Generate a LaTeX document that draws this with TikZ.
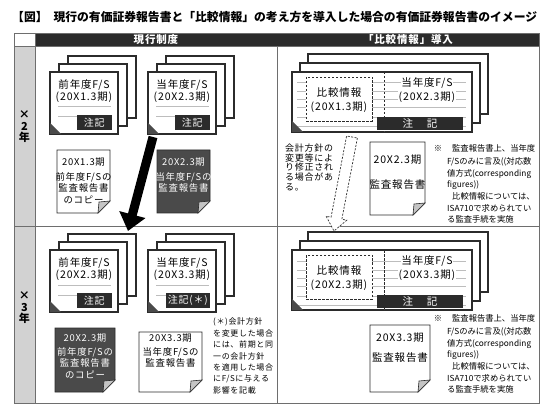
\documentclass[tikz,border=0pt]{standalone}
\usepackage{fontspec}
\setmainfont{Noto Sans CJK JP}[LetterSpace=8]
\newfontfamily\plainfont{Noto Sans CJK JP}
\usepackage{tikz}
\usetikzlibrary{arrows.meta, calc}
\definecolor{inkDark}{HTML}{2B2B2B}
\definecolor{sheetDark}{HTML}{4A4A4A}
\definecolor{ruleGray}{HTML}{BDBDBD}
\definecolor{sideGray}{HTML}{D2D2D2}
\definecolor{frameGray}{HTML}{6E6E6E}
\definecolor{foldGray}{HTML}{C4C4C4}

\begin{document}
\begin{tikzpicture}[x=1pt, y=-1pt,
  frame/.style={draw=frameGray, line width=0.9pt},
  sheet/.style={draw=inkDark, line width=1.3pt, fill=white},
  rule/.style={draw=ruleGray, line width=1pt},
  ear/.style={fill=sheetDark},
  stacktext/.style={font=\fontsize{10.5}{12}\selectfont, inner sep=0.6pt, fill=white},
  notebox/.style={fill=inkDark, text=white, font=\fontsize{10}{11}\selectfont, inner sep=2pt, minimum height=15pt, minimum width=35pt, anchor=east},
  widenote/.style={fill=inkDark, text=white, font=\fontsize{10.5}{11}\selectfont, inner sep=0pt, minimum height=13pt, minimum width=86pt},
  cmpframe/.style={draw=inkDark, dash pattern=on 2.5pt off 1.5pt, line width=0.8pt, fill=white},
  whitesheet/.style={draw=inkDark, line width=0.9pt, fill=white},
  darksheet/.style={draw=inkDark, line width=0.9pt, fill=sheetDark},
  reptext/.style={font=\fontsize{9.4}{11.5}\selectfont, align=center, inner sep=0pt, anchor=north},
  memo/.style={font=\plainfont\fontsize{8.3}{11.7}\selectfont, align=left, inner sep=0pt, anchor=north west},
  headtext/.style={font=\bfseries\fontsize{10.5}{12}\selectfont, text=white, inner sep=0pt},
  rowtext/.style={font=\bfseries\fontsize{11}{11.5}\selectfont, align=center, inner sep=0pt},
  copyarrow/.style={line width=9pt, -{Triangle[length=17pt, width=26pt]}},
  dasharrow/.style={draw=inkDark, dash pattern=on 2pt off 1.5pt, line width=0.7pt, fill=white},
  pics/fsstack/.style n args={3}{code={
    \foreach \k in {2,1}
      \draw[sheet] (9*\k,-8*\k) rectangle ++(68,62);
    \draw[sheet] (0,0) rectangle (68,62);
    \fill[ear] (0,51) -- (11,62) -- (0,62) -- cycle;
    \draw[rule] (8,35) -- (61,35);
    \draw[rule] (8,45) -- (27,45);
    \node[stacktext] (-name) at (34,13) {#1};
    \node[stacktext] (-term) at (34,25) {#2};
    \node[notebox] (-note) at (62,50.5) {#3};
  }},
  pics/cmpstack/.style n args={2}{code={
    \foreach \k in {2,1}
      \draw[sheet] (8*\k,-9*\k) rectangle ++(180,60);
    \draw[sheet] (0,0) rectangle (180,60);
    \foreach \r in {11,20,28,36,46,55}
      \draw[rule] (5,\r) -- (174,\r);
    \draw[cmpframe] (14,5) rectangle (80,49);
    \draw[cmpframe] (92,0) -- (92,60);
    \node[stacktext] (-cmpname) at (47,21) {比較情報};
    \node[stacktext] (-cmpterm) at (47,35) {#1};
    \node[stacktext] (-curname) at (135,11) {当年度F/S};
    \node[stacktext] (-curterm) at (135,25) {#2};
    \node[widenote] (-note) at (128,51.5) {注\hspace{1.3em}記};
    \fill[ear] (0,49) -- (11,60) -- (0,60) -- cycle;
  }},
  pics/report/.style n args={3}{code={
    \draw[#3] (0,0) -- (#1,0) -- (#1,#2-12) -- (#1-12,#2) -- (0,#2) -- cycle;
    \filldraw[draw=inkDark, line width=0.6pt, fill=foldGray] (#1,#2-12) -- (#1-12,#2) -- (#1-11,#2-11) -- cycle;
  }},
]
  \useasboundingbox (0,0) rectangle (550,412);
  \node[font=\plainfont\bfseries\fontsize{11.8}{13}\selectfont, anchor=west, inner sep=0pt] (title) at (12,17)
    {【図】\hspace{6pt}現行の有価証券報告書と「比較情報」の考え方を導入した場合の有価証券報告書のイメージ};

  % table
  \fill[inkDark] (35,33) rectangle (539,46);
  \fill[sideGray] (14,46) rectangle (35,403);
  \draw[frame] (14,33) rectangle (539,403);
  \draw[frame] (35,33) -- (35,403);
  \draw[frame] (14,46) -- (539,46);
  \draw[frame] (14,226) -- (539,226);
  \draw[frame] (277,46) -- (277,403);
  \node[headtext] (hdNow) at (156,39.5) {現行制度};
  \node[headtext] (hdCmp) at (408,39.5) {「比較情報」導入};
  \node[rowtext] (yr2) at (24.5,127) {×\\2\\年};
  \node[rowtext] (yr3) at (24.5,308) {×\\3\\年};

  % F/S stacks
  \pic (fsPrev2) at (50,72) {fsstack={前年度F/S}{(20X1.3期)}{注記}};
  \pic (fsCur2) at (148,72) {fsstack={当年度F/S}{(20X2.3期)}{注記}};
  \pic (fsPrev3) at (50,250) {fsstack={前年度F/S}{(20X2.3期)}{注記}};
  \pic (fsCur3) at (148,250) {fsstack={当年度F/S}{(20X3.3期)}{注記(＊)}};
  \pic (cmp2) at (292,72) {cmpstack={(20X1.3期)}{(20X2.3期)}};
  \pic (cmp3) at (292,250) {cmpstack={(20X2.3期)}{(20X3.3期)}};

  % audit reports
  \pic (repCopy2) at (57,150) {report={53}{63}{whitesheet}};
  \node[reptext] (txCopy2) at (83.5,157.5) {20X1.3期\\[3.5pt]前年度F/Sの\\監査報告書\\のコピー};
  \pic (repCur2) at (157,150) {report={53}{63}{darksheet}};
  \node[reptext, text=white] (txCur2) at (183.5,157.5) {20X2.3期\\[3.5pt]当年度F/Sの\\監査報告書};
  \pic (repCopy3) at (55,328) {report={60}{64}{darksheet}};
  \node[reptext, text=white] (txCopy3) at (85,333.5) {20X2.3期\\[2.5pt]前年度F/Sの\\監査報告書\\のコピー};
  \pic (repCur3) at (139,332) {report={63}{60}{whitesheet}};
  \node[reptext] (txCur3) at (170.5,333.5) {20X3.3期\\[2.5pt]当年度F/Sの\\監査報告書};
  \pic (repCmp2) at (370,142) {report={55}{73}{whitesheet}};
  \node[reptext, font=\fontsize{10.5}{12}\selectfont] (txCmp2) at (397.5,155) {20X2.3期\\[13pt]監査報告書};
  \pic (repCmp3) at (370,325) {report={60}{67}{whitesheet}};
  \node[reptext, font=\fontsize{10.5}{12}\selectfont] (txCmp3) at (400,333) {20X3.3期\\[8pt]監査報告書};

  % notes
  \node[memo, font=\fontsize{9}{9.8}\selectfont] (chgNote) at (285,143.5)
    {会計方針の\\変更等によ\\り修正され\\る場合があ\\る。};
  \node[memo] (corrNote2) at (447,144)
    {\llap{※\hspace{5pt}}\hspace*{5pt}監査報告書上、当年度\\[1.5pt]F/Sのみに言及((対応数\\値方式(corresponding\\figures))\\\hspace*{5pt}比較情報については、\\ISA710で求められてい\\る監査手続を実施};
  \node[memo] (corrNote3) at (447,314)
    {\llap{※\hspace{5pt}}\hspace*{5pt}監査報告書上、当年度\\[1.5pt]F/Sのみに言及((対応数\\値方式(corresponding\\figures))\\\hspace*{5pt}比較情報については、\\ISA710で求められてい\\る監査手続を実施};
  \node[memo, font=\fontsize{8}{11.4}\selectfont] (astNote) at (213,318)
    {(＊)会計方針\\を変更した場合\\には、前期と同\\一の会計方針\\を適用した場合\\にF/Sに与える\\影響を記載};

  % arrows
  \coordinate (cpyS) at (153,137);
  \coordinate (cpyE) at (128,231);
  \draw[copyarrow] (cpyS) -- (cpyE);
  \coordinate (cmpS) at (352,137);
  \coordinate (cmpE) at (334,231);
  \coordinate (cmpH) at ($(cmpE)!13pt!(cmpS)$);
  \filldraw[dasharrow] ($(cmpS)!5.5pt!90:(cmpE)$) -- ($(cmpH)!5.5pt!90:(cmpE)$)
    -- ($(cmpH)!10.5pt!90:(cmpE)$) -- (cmpE) -- ($(cmpH)!10.5pt!-90:(cmpE)$)
    -- ($(cmpH)!5.5pt!-90:(cmpE)$) -- ($(cmpS)!5.5pt!-90:(cmpE)$) -- cycle;
\end{tikzpicture}
\end{document}
